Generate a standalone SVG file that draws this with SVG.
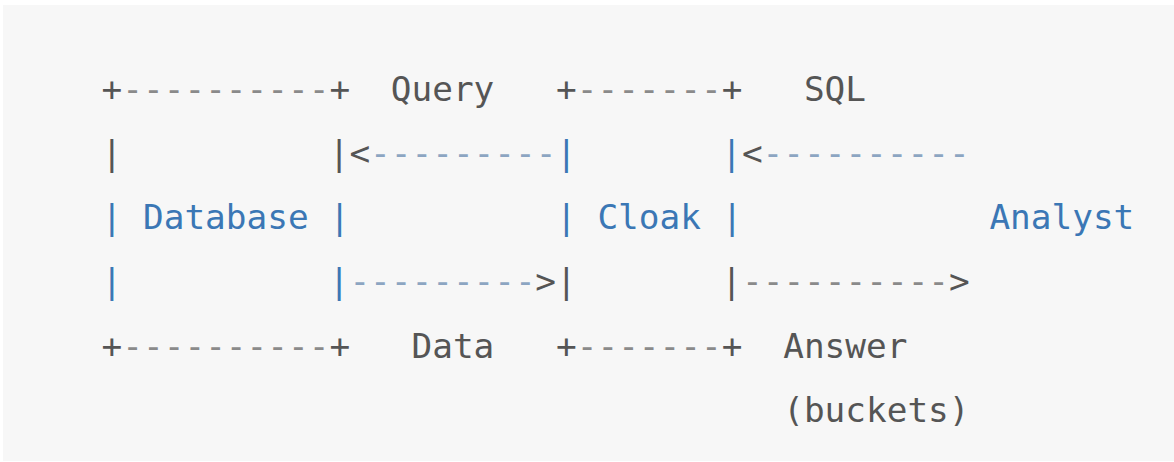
<svg xmlns="http://www.w3.org/2000/svg" width="1174" height="462" viewBox="0 0 1174 462">
<style>
text{font-family:"DejaVu Sans Mono","Liberation Mono",monospace;font-size:34.4px;white-space:pre}
.g{fill:#555555}
.b{fill:#3b77b5}
.gd{fill:#8a8a8a}
.bd{fill:#8ca5c2}
</style>
<rect x="0" y="0" width="1174" height="462" fill="#ffffff"/>
<rect x="3" y="5" width="1171" height="456" fill="#f7f7f7"/>
<g id="database">
<text x="101.6" y="100.5" class="g">+<tspan class="gd">----------</tspan>+</text>
<text x="101.6" y="164.75" class="g">|</text>
<text x="328.8" y="164.75" class="g">|</text>
<text x="101.6" y="229" class="b">| Database |</text>
<text x="101.6" y="293.25" class="b">|</text>
<text x="328.8" y="293.25" class="b">|</text>
<text x="101.6" y="357.5" class="g">+<tspan class="gd">----------</tspan>+</text>
</g>
<g id="cloak">
<text x="556" y="100.5" class="g">+<tspan class="gd">-------</tspan>+</text>
<text x="556" y="164.75" class="b">|</text>
<text x="721.3" y="164.75" class="b">|</text>
<text x="556" y="229" class="b">| Cloak |</text>
<text x="556" y="293.25" class="g">|</text>
<text x="721.3" y="293.25" class="g">|</text>
<text x="556" y="357.5" class="g">+<tspan class="gd">-------</tspan>+</text>
</g>
<g id="analyst">
<text x="989.4" y="229" class="b">Analyst</text>
</g>
<g id="connectors">
<text x="390.8" y="100.5" class="g">Query</text>
<text x="349.4" y="164.75" class="g">&lt;</text>
<text x="370.1" y="164.75" class="bd">---------</text>
<text x="349.4" y="293.25" class="bd">---------</text>
<text x="535.3" y="293.25" class="g">&gt;</text>
<text x="411.5" y="357.5" class="g">Data</text>
<text x="803.9" y="100.5" class="g">SQL</text>
<text x="742" y="164.75" class="g">&lt;</text>
<text x="762.6" y="164.75" class="bd">----------</text>
<text x="742" y="293.25" class="gd">----------</text>
<text x="949" y="293.25" class="g">&gt;</text>
<text x="783.2" y="357.5" class="g">Answer</text>
<text x="783.2" y="421.75" class="g">(buckets)</text>
</g>
</svg>
